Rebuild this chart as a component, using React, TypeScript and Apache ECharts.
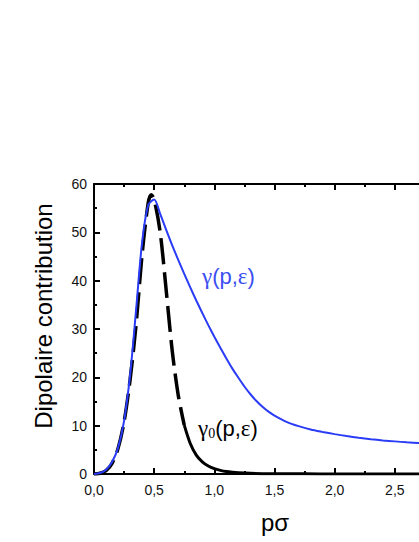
import React, { useEffect, useRef } from "react";
import * as echarts from "echarts";

const xTicks = [0, 0.5, 1.0, 1.5, 2.0, 2.5];
const yTicks = [0, 10, 20, 30, 40, 50, 60];

const gammaX = [0, 0.05, 0.1, 0.15, 0.2, 0.25, 0.3, 0.35, 0.4, 0.45, 0.5, 0.55, 0.6, 0.65, 0.7, 0.75, 0.8, 0.85, 0.9, 0.95, 1.0, 1.05, 1.1, 1.15, 1.2, 1.25, 1.3, 1.35, 1.4, 1.45, 1.5, 1.6, 1.7, 1.8, 1.9, 2.0, 2.1, 2.2, 2.3, 2.4, 2.5, 2.6, 2.7, 2.8, 2.9, 3.0];
const gammaY = [0, 0.2, 0.9, 2.5, 5.4, 11, 20.5, 34, 48, 55.6, 56.8, 53.8, 50.5, 47.3, 44.3, 41.4, 38.6, 35.9, 33.3, 30.8, 28.4, 26.1, 23.9, 21.8, 19.9, 18.1, 16.5, 15.1, 13.9, 12.9, 12.1, 10.8, 9.9, 9.2, 8.7, 8.25, 7.85, 7.5, 7.2, 6.95, 6.75, 6.55, 6.4, 6.25, 6.12, 6.0];

const gamma0X = [0, 0.05, 0.1, 0.15, 0.2, 0.25, 0.3, 0.35, 0.4, 0.45, 0.475, 0.5, 0.55, 0.6, 0.65, 0.7, 0.75, 0.8, 0.85, 0.9, 0.95, 1.0, 1.05, 1.1, 1.15, 1.2, 1.3, 1.4, 1.5, 1.75, 2.0, 2.5, 3.0];
const gamma0Y = [0, 0.15, 0.7, 2.2, 5.3, 10.8, 19.5, 31, 45.5, 56, 57.8, 56.8, 50, 38, 25.5, 16.3, 10.1, 6.3, 3.9, 2.5, 1.65, 1.1, 0.75, 0.5, 0.35, 0.25, 0.13, 0.07, 0.05, 0.03, 0.02, 0.01, 0];
const dashEnd = 0.75;

const fmtX = (v: number) => v.toFixed(1).replace(".", ",");

export default function App() {
  const ref = useRef<HTMLDivElement>(null);
  useEffect(() => {
    if (!ref.current) return;
    const chart = echarts.init(ref.current, undefined, { renderer: "svg" });
    const blue = gammaX.map((x, i) => [x, gammaY[i]]);
    const black = gamma0X.map((x, i) => [x, gamma0Y[i]]);
    const blackDashed = black.filter((p) => p[0] <= dashEnd);
    const blackSolid = black.filter((p) => p[0] >= dashEnd);
    const font = "Arial, 'Liberation Sans', sans-serif";
    const serif = "'Liberation Serif', 'DejaVu Serif', serif";
    const tickCommon = {
      axisLine: { show: true, onZero: false, lineStyle: { color: "#000", width: 2 } },
      splitLine: { show: false },
    };
    const majorTick = { show: true, inside: true, length: 6, lineStyle: { color: "#000", width: 2 } };
    const minorTick = { show: true, splitNumber: 2, length: 3, lineStyle: { color: "#000", width: 2 } };
    const blueC = "#3a4ef2";
    chart.setOption({
      animation: false,
      grid: { left: 94, top: 184, width: 361, height: 290, containLabel: false },
      xAxis: [
        {
          type: "value",
          min: 0,
          max: 3,
          interval: 0.5,
          position: "bottom",
          ...tickCommon,
          axisTick: majorTick,
          minorTick,
          axisLabel: { formatter: fmtX, color: "#111", fontSize: 14, margin: 9, fontFamily: font, customValues: xTicks },
        },
        {
          type: "value",
          min: 0,
          max: 3,
          interval: 0.5,
          position: "top",
          ...tickCommon,
          axisTick: majorTick,
          minorTick,
          axisLabel: { show: false },
        },
      ],
      yAxis: [
        {
          type: "value",
          min: 0,
          max: 60,
          interval: 10,
          position: "left",
          ...tickCommon,
          axisTick: majorTick,
          minorTick,
          axisLabel: { color: "#111", fontSize: 14, margin: 7, fontFamily: font, customValues: yTicks },
        },
        {
          type: "value",
          min: 0,
          max: 60,
          interval: 10,
          position: "right",
          ...tickCommon,
          axisTick: majorTick,
          axisLabel: { show: false },
        },
      ],
      series: [
        {
          name: "γ0 dashed",
          type: "line",
          data: blackDashed,
          showSymbol: false,
          smooth: 0.3,
          lineStyle: { color: "#000", width: 3.5, type: [26, 8] },
          z: 3,
        },
        {
          name: "γ0 tail",
          type: "line",
          data: blackSolid,
          showSymbol: false,
          smooth: 0.3,
          lineStyle: { color: "#000", width: 3 },
          z: 3,
        },
        {
          name: "γ",
          type: "line",
          data: blue,
          showSymbol: false,
          smooth: 0.3,
          lineStyle: { color: "#2a3cf5", width: 2 },
          z: 4,
        },
      ],
      graphic: [
        {
          type: "text",
          x: 43,
          y: 316,
          rotation: Math.PI / 2,
          style: {
            text: "Dipolaire contribution",
            font: `24px ${font}`,
            fill: "#000",
            align: "center",
            verticalAlign: "middle",
          },
        },
        {
          type: "text",
          x: 275,
          y: 522,
          style: {
            text: "pσ",
            font: `24px ${font}`,
            fill: "#000",
            align: "center",
            verticalAlign: "middle",
          },
        },
        {
          type: "text",
          x: 202,
          y: 276,
          style: {
            text: "{g|γ}{a|(p,}{g|ε}{a|)}",
            align: "left",
            verticalAlign: "middle",
            rich: {
              g: { font: `23px ${serif}`, fill: blueC, color: blueC },
              a: { font: `22px ${font}`, fill: blueC, color: blueC },
            },
          },
        },
        {
          type: "text",
          x: 198,
          y: 428,
          style: {
            text: "{g|γ}{b|0}{a|(p,}{g|ε}{a|)}",
            align: "left",
            verticalAlign: "middle",
            rich: {
              g: { font: `23px ${serif}`, fill: "#000", color: "#000" },
              a: { font: `22px ${font}`, fill: "#000", color: "#000" },
              b: { font: `14px ${serif}`, fill: "#000", color: "#000", padding: [10, 0, 0, 0] },
            },
          },
        },
      ],
    });
    return () => chart.dispose();
  }, []);
  return (
    <div style={{ position: "fixed", left: 0, top: 0, width: 419, height: 542, overflow: "hidden", background: "#fff" }}>
      <div ref={ref} style={{ width: 520, height: 542 }} />
    </div>
  );
}
